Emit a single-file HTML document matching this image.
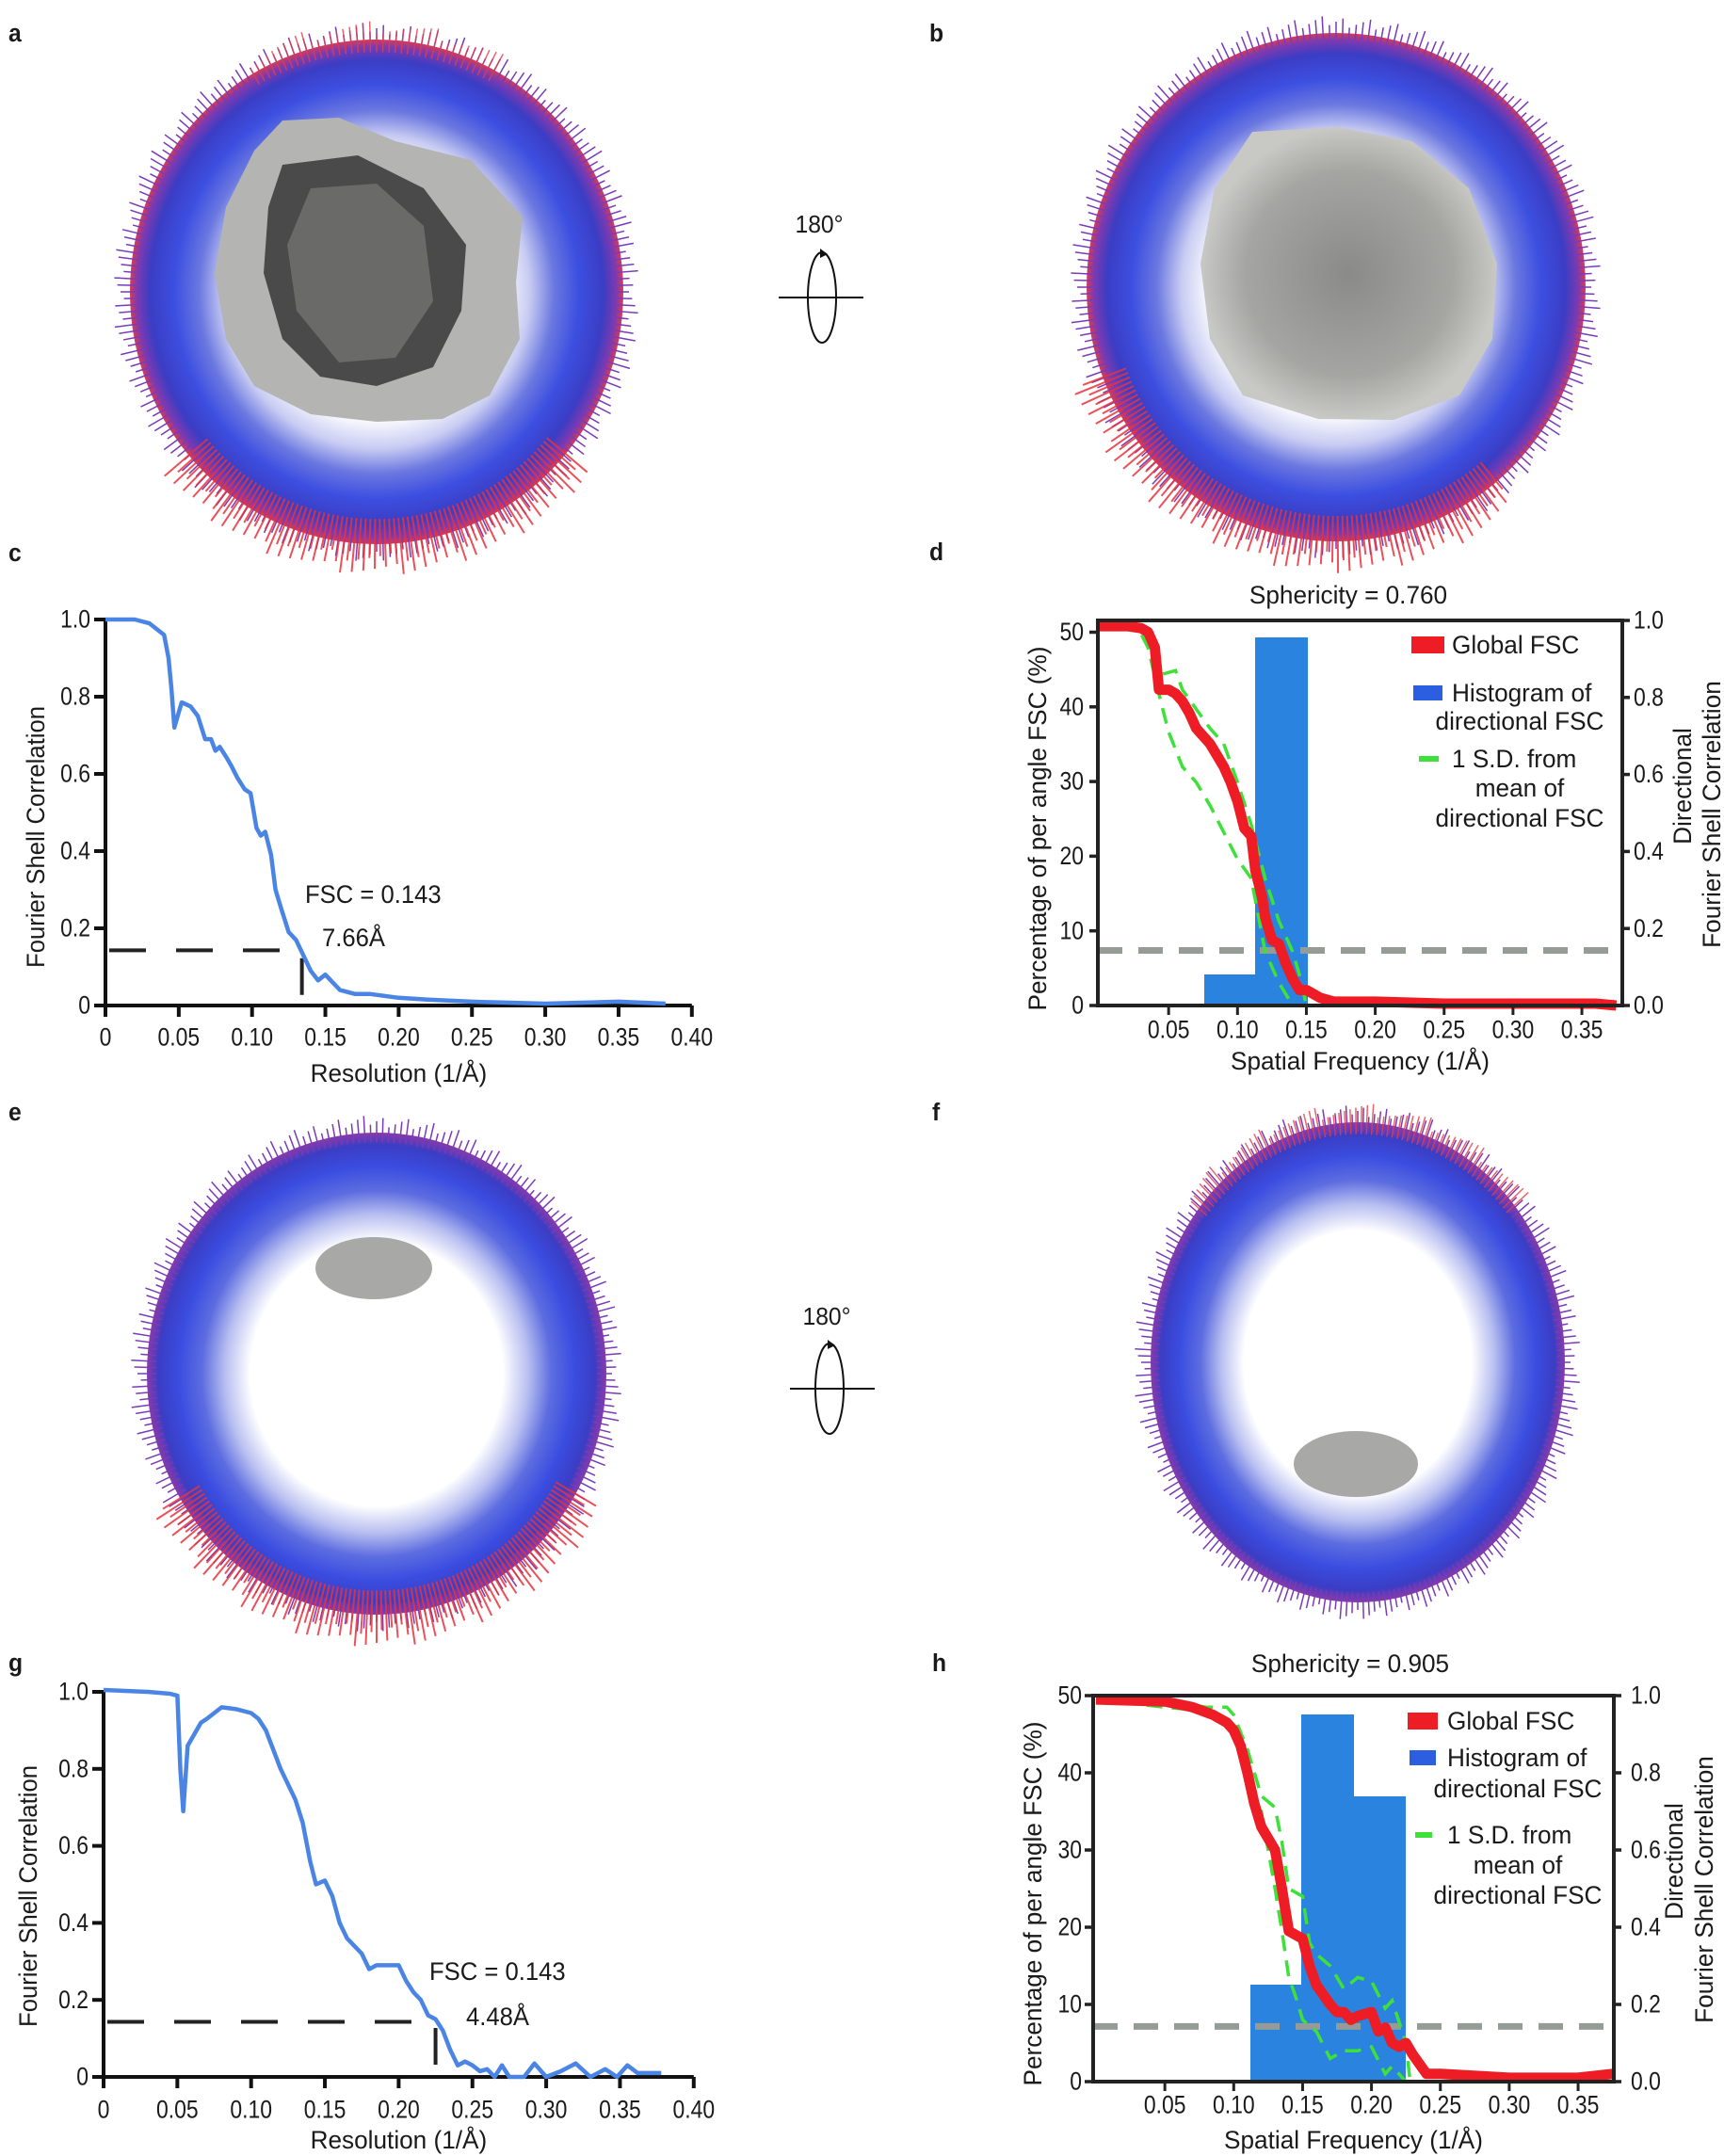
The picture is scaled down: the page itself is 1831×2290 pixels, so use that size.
<!DOCTYPE html>
<html><head><meta charset="utf-8"><style>
html,body{margin:0;padding:0;background:#fff}
svg{display:block}
text{font-family:"Liberation Sans",sans-serif;fill:#1a1a1a}
</style></head><body>
<svg id="s" width="1831" height="2290" viewBox="0 0 1831 2290" xmlns="http://www.w3.org/2000/svg">
<defs>
<radialGradient id="sph" cx="0.5" cy="0.5" r="0.5">
<stop offset="0" stop-color="#fff"/><stop offset="0.5" stop-color="#fff"/>
<stop offset="0.62" stop-color="#c8ccf2"/><stop offset="0.72" stop-color="#6b78e0"/>
<stop offset="0.82" stop-color="#3c4fe0"/><stop offset="0.92" stop-color="#3b3dc4"/>
<stop offset="0.97" stop-color="#7b3ab0"/><stop offset="1" stop-color="#d83a55"/>
</radialGradient>
<radialGradient id="sph2" cx="0.5" cy="0.5" r="0.5">
<stop offset="0" stop-color="#fff"/><stop offset="0.55" stop-color="#fff"/>
<stop offset="0.66" stop-color="#b8bff0"/><stop offset="0.76" stop-color="#5d6de0"/>
<stop offset="0.86" stop-color="#3a4de0"/><stop offset="0.95" stop-color="#3b3dc4"/>
<stop offset="1" stop-color="#8a3aa8"/>
</radialGradient>
<radialGradient id="grey" cx="0.5" cy="0.5" r="0.5">
<stop offset="0" stop-color="#8a8a88"/><stop offset="0.7" stop-color="#a5a5a2"/><stop offset="1" stop-color="#c8c8c5"/>
</radialGradient>
</defs>
<g id="g"></g>
</svg>
<script>
const NS="http://www.w3.org/2000/svg",G=document.getElementById('g');
function el(t,a,txt){const e=document.createElementNS(NS,t);for(const k in a)e.setAttribute(k,a[k]);if(txt!==undefined)e.textContent=txt;G.appendChild(e);return e;}
function txt(x,y,s,sz,anc,rot,sc,extra){
  sc=sc||1;
  const tr=`translate(${x},${y})`+(rot?` rotate(${rot})`:'')+` scale(${sc},1)`;
  const a=Object.assign({x:0,y:0,'font-size':sz||26,'text-anchor':anc||'start','dominant-baseline':'central',transform:tr},extra||{});
  return el('text',a,s);}
function sphere(cx,cy,rx,ry,grad,redBottom,redTop){
  el('ellipse',{cx:cx,cy:cy,rx:rx,ry:ry,fill:'url(#'+grad+')'});
  let d='';
  for(let i=0;i<360;i+=1.5){const a=i*Math.PI/180;const l=6+((i*37)%13);
    d+=`M${cx+Math.cos(a)*rx*0.96} ${cy+Math.sin(a)*ry*0.96}L${cx+Math.cos(a)*(rx+l)} ${cy+Math.sin(a)*(ry+l)}`;}
  el('path',{d:d,stroke:'#7a3ab8',"stroke-width":1.5,fill:'none'});
  if(redBottom){let d2='';for(let i=redBottom[0];i<redBottom[1];i+=1.2){const a=i*Math.PI/180;const l=10+((i*53)%25);
    d2+=`M${cx+Math.cos(a)*rx*0.9} ${cy+Math.sin(a)*ry*0.9}L${cx+Math.cos(a)*(rx+l)} ${cy+Math.sin(a)*(ry+l)}`;}
    el('path',{d:d2,stroke:'#e8323c',"stroke-width":2,fill:'none',opacity:0.85});}
  if(redTop){let d2='';for(let i=redTop[0];i<redTop[1];i+=1.5){const a=i*Math.PI/180;const l=6+((i*41)%15);
    d2+=`M${cx+Math.cos(a)*rx*0.95} ${cy+Math.sin(a)*ry*0.95}L${cx+Math.cos(a)*(rx+l)} ${cy+Math.sin(a)*(ry+l)}`;}
    el('path',{d:d2,stroke:'#e0404a',"stroke-width":1.5,fill:'none',opacity:0.8});}
}
sphere(400,310,262,268,'sph',[40,140],[240,300]);
sphere(1419,305,265,270,'sph',[50,160],null);
sphere(400,1459,244,256,'sph2',[30,150],null);
sphere(1442,1447,220,255,'sph2',null,[220,320]);
el('path',{d:'M300 128 L360 125 L420 150 L500 170 L555 230 L548 300 L552 360 L520 420 L470 445 L400 448 L330 440 L270 410 L240 360 L228 290 L240 220 L270 160 Z',fill:'#b4b4b2'});
el('path',{d:'M300 175 L380 165 L450 200 L495 260 L490 330 L460 390 L400 410 L340 400 L300 360 L280 290 L285 220 Z',fill:'#4a4a4a'});
el('path',{d:'M330 200 L400 195 L450 240 L460 320 L420 380 L360 385 L315 330 L305 260 Z',fill:'#6a6a68'});
el('path',{d:'M1330 140 L1420 135 L1500 150 L1560 200 L1590 280 L1585 360 L1550 420 L1480 446 L1400 445 L1320 420 L1285 360 L1275 280 L1290 200 Z',fill:'url(#grey)'});
el('ellipse',{cx:397,cy:1347,rx:62,ry:33,fill:'#a8a8a6'});
el('ellipse',{cx:1440,cy:1555,rx:66,ry:35,fill:'#a8a8a6'});
function rot(tx,ty,cx,cy,x1,x2){
  txt(tx,ty,'180°',26,'middle',0,0.95);
  el('ellipse',{cx:cx,cy:cy,rx:15,ry:48,fill:'none',stroke:'#111','stroke-width':2});
  el('line',{x1:x1,y1:cy,x2:x2,y2:cy,stroke:'#111','stroke-width':2});
  el('path',{d:`M${cx-2} ${cy-52} L${cx+6} ${cy-46} L${cx-2} ${cy-42}Z`,fill:'#111'});
}
rot(870,239,873,316,827,917);
rot(878,1399,881,1475,839,929);
[['a',9,36],['b',987,36],['c',9,588],['d',987,587],['e',9,1182],['f',990,1182],['g',9,1767],['h',990,1767]].forEach(p=>txt(p[1],p[2],p[0],26,'start',0,0.95,{'font-weight':'bold'}));
function path(pts,fx,fy){return pts.map((p,i)=>(i?'L':'M')+fx(p[0]).toFixed(1)+' '+fy(p[1]).toFixed(1)).join('');}
const TS=27,TSC=0.85,LS=27,LSC=0.97;
function fsc(o){
  const fx=x=>o.x0+x*o.sx, fy=y=>o.y0-y*o.sy;
  el('line',{x1:o.x0,y1:fy(1),x2:o.x0,y2:o.y0,stroke:'#111','stroke-width':4});
  el('line',{x1:o.x0,y1:o.y0,x2:fx(0.4),y2:o.y0,stroke:'#111','stroke-width':4});
  for(let i=0;i<=8;i++){const x=fx(i*0.05);el('line',{x1:x,y1:o.y0,x2:x,y2:o.y0+12,stroke:'#111','stroke-width':4});
    txt(x,o.xty,i==0?'0':(i*0.05).toFixed(2),TS,'middle',0,TSC);}
  for(let i=0;i<=5;i++){const y=fy(i*0.2);el('line',{x1:o.x0-12,y1:y,x2:o.x0,y2:y,stroke:'#111','stroke-width':4});
    txt(o.x0-16,y,i==0?'0':(i*0.2).toFixed(1),TS,'end',0,TSC);}
  txt(fx(0.2),o.xly,'Resolution (1/Å)',LS,'middle',0,LSC);
  txt(o.lx,o.lyc,'Fourier Shell Correlation',LS,'middle',-90,0.95);
  const yc=fy(0.143);
  el('path',{d:`M${o.x0+4} ${yc}H${fx(o.res)}V${o.y0}`,fill:'none',stroke:'#222','stroke-width':4,'stroke-dasharray':'39 32'});
  el('path',{d:path(o.pts,fx,fy),fill:'none',stroke:'#4a85e6','stroke-width':4.5,'stroke-linejoin':'round'});
  txt(o.t1[0],o.t1[1],'FSC = 0.143',27,'start',0,0.95);
  txt(o.t2[0],o.t2[1],o.rtxt,27,'start',0,0.95);
}
fsc({x0:112,y0:1068,sx:1557,sy:410,xty:1102,xly:1140,lx:38,lyc:889,res:0.134,t1:[324,950],t2:[342,996],rtxt:'7.66Å',
pts:[[0,1],[0.02,1],[0.03,0.99],[0.035,0.975],[0.04,0.96],[0.043,0.9],[0.045,0.82],[0.047,0.72],[0.05,0.76],[0.052,0.785],[0.058,0.775],[0.063,0.75],[0.068,0.69],[0.072,0.69],[0.075,0.66],[0.078,0.67],[0.083,0.64],[0.086,0.62],[0.09,0.59],[0.095,0.56],[0.099,0.55],[0.103,0.46],[0.106,0.44],[0.109,0.45],[0.113,0.39],[0.116,0.3],[0.12,0.25],[0.125,0.19],[0.13,0.17],[0.135,0.13],[0.14,0.09],[0.145,0.065],[0.15,0.08],[0.155,0.06],[0.16,0.04],[0.17,0.03],[0.18,0.03],[0.2,0.02],[0.22,0.015],[0.25,0.01],[0.3,0.005],[0.35,0.01],[0.382,0.005]]});
fsc({x0:110,y0:2206,sx:1567,sy:409,xty:2241,xly:2273,lx:30,lyc:2014,res:0.225,t1:[456,2094],t2:[495,2142],rtxt:'4.48Å',
pts:[[0,1.005],[0.03,1],[0.045,0.995],[0.05,0.99],[0.052,0.8],[0.054,0.69],[0.057,0.86],[0.06,0.88],[0.066,0.92],[0.07,0.93],[0.08,0.96],[0.09,0.955],[0.1,0.945],[0.105,0.93],[0.11,0.9],[0.115,0.85],[0.12,0.8],[0.125,0.76],[0.13,0.72],[0.135,0.66],[0.14,0.56],[0.144,0.5],[0.15,0.51],[0.155,0.47],[0.16,0.4],[0.165,0.36],[0.17,0.34],[0.175,0.32],[0.18,0.28],[0.185,0.29],[0.19,0.29],[0.2,0.29],[0.205,0.25],[0.21,0.22],[0.215,0.2],[0.22,0.16],[0.225,0.15],[0.23,0.12],[0.235,0.07],[0.24,0.03],[0.245,0.04],[0.25,0.03],[0.255,0.015],[0.26,0.02],[0.265,0],[0.27,0.03],[0.275,0],[0.285,0],[0.292,0.035],[0.3,0],[0.31,0.015],[0.32,0.035],[0.33,0],[0.34,0.02],[0.348,0],[0.355,0.03],[0.362,0.01],[0.378,0.01]]});
function dfsc(o){
  const fx=x=>o.x0+x*o.sx, fy=y=>o.y0-y*o.sy, top=o.y0-o.sy, R=o.xr, L0=o.xl;
  o.bars.forEach(b=>el('rect',{x:b[0],y:b[2],width:b[1]-b[0],height:o.y0-b[2],fill:'#2b83e0'}));
  el('line',{x1:L0,y1:fy(0.143),x2:R,y2:fy(0.143),stroke:'#959c96','stroke-width':7,'stroke-dasharray':'26 17'});
  const gd={fill:'none',stroke:'#3ee03a','stroke-width':3.5,'stroke-dasharray':'17 10'};
  el('path',Object.assign({d:path(o.gu,fx,fy)},gd));
  el('path',Object.assign({d:path(o.gl,fx,fy)},gd));
  el('path',{d:path(o.red,fx,fy),fill:'none',stroke:'#ee1c24','stroke-width':11,'stroke-linejoin':'round'});
  el('rect',{x:L0,y:top,width:R-L0,height:o.sy,fill:'none',stroke:'#222','stroke-width':4});
  for(let i=1;i<=7;i++){const x=fx(i*0.05);el('line',{x1:x,y1:o.y0,x2:x,y2:o.y0+10,stroke:'#222','stroke-width':3});txt(x,o.xty,(i*0.05).toFixed(2),TS,'middle',0,TSC);}
  for(let i=0;i<=5;i++){const y=o.y0-i*10*o.py;el('line',{x1:L0-9,y1:y,x2:L0,y2:y,stroke:'#222','stroke-width':3.5});txt(o.ltr-2,y,String(i*10),TS,'end',0,TSC);}
  for(let i=0;i<=5;i++){const y=fy(i*0.2);el('line',{x1:R,y1:y,x2:R+8,y2:y,stroke:'#222','stroke-width':3.5});txt(o.rtl+6,y,(i*0.2).toFixed(1),TS,'start',0,TSC);}
  txt(o.llx,o.llc,'Percentage of per angle FSC (%)',LS,'middle',-90,0.97);
  txt(o.rl1,o.rlc-30,'Directional',LS,'middle',-90,0.97);
  txt(o.rl2,o.rlc,'Fourier Shell Correlation',LS,'middle',-90,0.97);
  txt((L0+R)/2,o.xly,'Spatial Frequency (1/Å)',LS,'middle',0,0.97);
  txt(o.tx,o.ty,o.title,27,'middle',0,0.97);
  const L=o.leg;
  el('rect',{x:L.sx,y:L.y[0]-9,width:L.sw,height:18,fill:'#ee1c24'});
  el('rect',{x:L.sx+2,y:L.y[1]-8,width:L.sw-4,height:16,fill:'#2b5ee0'});
  el('rect',{x:L.sx+8,y:L.y[3]-3,width:L.sw-14,height:6,fill:'#3ee03a'});
  const F=27,S=0.97;
  txt(L.tx,L.y[0],'Global FSC',F,'start',0,S);
  txt(L.tx,L.y[1],'Histogram of',F,'start',0,S);
  txt(L.c,L.y[2],'directional FSC',F,'middle',0,S);
  txt(L.tx,L.y[3],'1 S.D. from',F,'start',0,S);
  txt(L.c,L.y[4],'mean of',F,'middle',0,S);
  txt(L.c,L.y[5],'directional FSC',F,'middle',0,S);
}
dfsc({xl:1166,xr:1723,x0:1168,y0:1068,sx:1463,sy:409,py:7.93,xty:1094,xly:1127,ltr:1153,rtl:1729,llx:1102,llc:880,rl1:1787,rl2:1818,rlc:865,tx:1432,ty:632,title:'Sphericity = 0.760',
bars:[[1279,1333,1035],[1333,1389,677]],
leg:{sx:1499,sw:35,tx:1542,c:1614,y:[685,736,766,806,837,869]},
red:[[0,0.985],[0.02,0.985],[0.03,0.98],[0.035,0.97],[0.04,0.93],[0.043,0.82],[0.05,0.82],[0.055,0.81],[0.06,0.79],[0.065,0.76],[0.07,0.72],[0.075,0.7],[0.08,0.68],[0.085,0.65],[0.09,0.62],[0.095,0.58],[0.1,0.53],[0.105,0.46],[0.11,0.44],[0.113,0.35],[0.118,0.28],[0.12,0.23],[0.125,0.17],[0.13,0.16],[0.135,0.11],[0.14,0.07],[0.145,0.04],[0.15,0.04],[0.155,0.03],[0.16,0.02],[0.17,0.01],[0.2,0.01],[0.25,0.005],[0.3,0.005],[0.36,0.005],[0.375,0]],
gu:[[0,1],[0.03,1],[0.04,0.95],[0.045,0.86],[0.055,0.87],[0.06,0.82],[0.07,0.77],[0.08,0.72],[0.09,0.68],[0.1,0.58],[0.11,0.47],[0.115,0.4],[0.12,0.33],[0.13,0.22],[0.14,0.14],[0.145,0.08],[0.15,0]],
gl:[[0,1],[0.025,1],[0.035,0.93],[0.045,0.78],[0.05,0.71],[0.06,0.62],[0.07,0.58],[0.08,0.52],[0.09,0.45],[0.1,0.38],[0.11,0.33],[0.12,0.14],[0.13,0.06],[0.14,0]]});
dfsc({xl:1161,xr:1714,x0:1164,y0:2211,sx:1463,sy:410,py:8.2,xty:2236,xly:2273,ltr:1151,rtl:1726,llx:1097,llc:2022,rl1:1778,rl2:1810,rlc:2007,tx:1434,ty:1767,title:'Sphericity = 0.905',
bars:[[1328,1382,2108],[1382,1438,1821],[1438,1493,1908]],
leg:{sx:1495,sw:32,tx:1537,c:1612,y:[1828,1867,1900,1949,1981,2013]},
red:[[0,0.99],[0.05,0.985],[0.07,0.97],[0.085,0.95],[0.095,0.93],[0.1,0.91],[0.105,0.87],[0.11,0.8],[0.115,0.72],[0.12,0.66],[0.13,0.6],[0.135,0.5],[0.14,0.39],[0.15,0.37],[0.155,0.3],[0.16,0.25],[0.17,0.2],[0.175,0.18],[0.18,0.18],[0.185,0.16],[0.19,0.17],[0.2,0.18],[0.205,0.13],[0.21,0.14],[0.215,0.1],[0.22,0.09],[0.225,0.1],[0.23,0.07],[0.24,0.02],[0.25,0.02],[0.3,0.01],[0.35,0.01],[0.375,0.02]],
gu:[[0,1],[0.05,0.99],[0.08,0.97],[0.095,0.97],[0.1,0.95],[0.11,0.86],[0.12,0.74],[0.13,0.71],[0.135,0.62],[0.14,0.5],[0.15,0.48],[0.155,0.36],[0.16,0.33],[0.17,0.3],[0.18,0.24],[0.19,0.27],[0.2,0.26],[0.21,0.19],[0.215,0.21],[0.225,0.1],[0.228,0]],
gl:[[0,0.99],[0.05,0.97],[0.08,0.96],[0.095,0.93],[0.11,0.82],[0.115,0.74],[0.12,0.7],[0.13,0.5],[0.135,0.39],[0.14,0.27],[0.145,0.22],[0.15,0.16],[0.16,0.13],[0.17,0.06],[0.18,0.08],[0.19,0.08],[0.2,0.09],[0.21,0.02],[0.215,0.04],[0.225,0],[0.38,0]]});
</script>
</body></html>
